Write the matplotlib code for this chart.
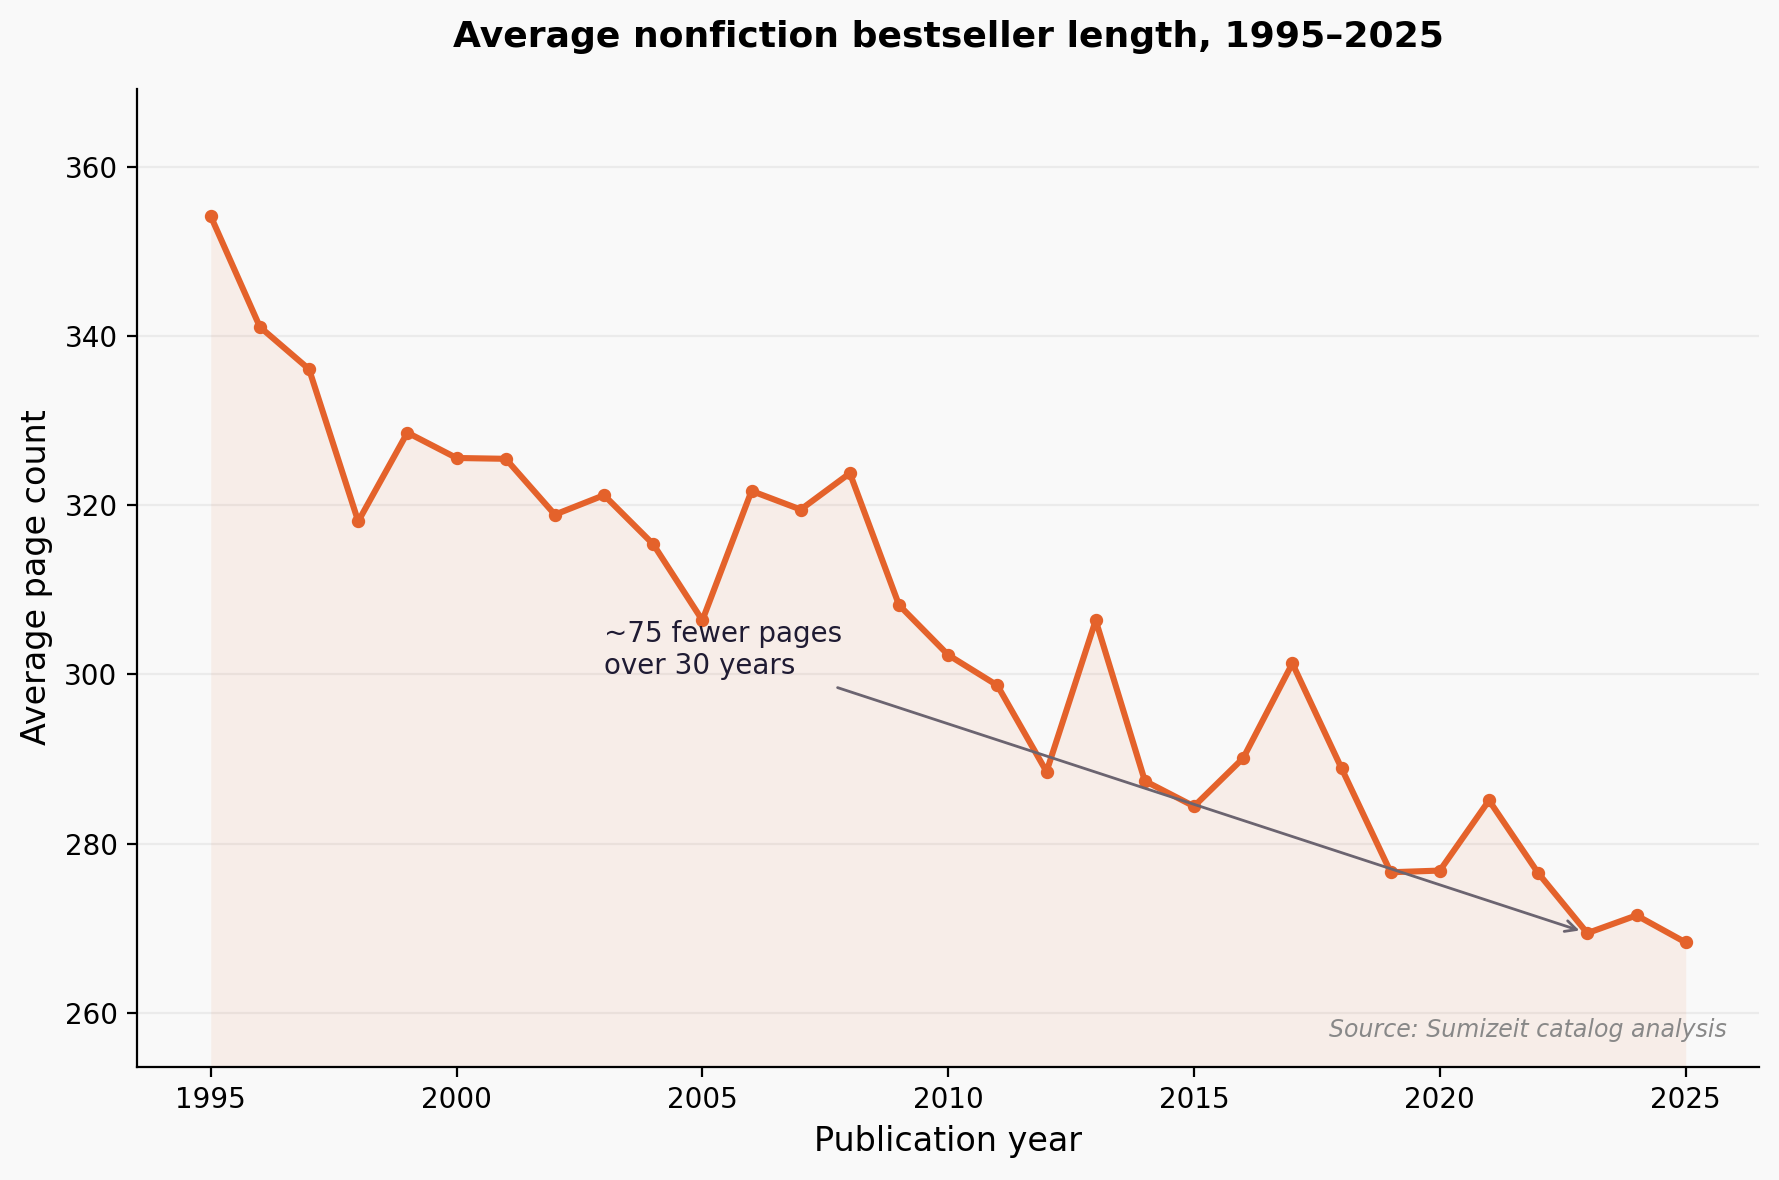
import numpy as np
import matplotlib
matplotlib.use('Agg')
import matplotlib.pyplot as plt

# Dati
years = list(range(1995, 2026))
pages = [354.2, 341.1, 336.1, 318.1, 328.6, 325.6, 325.5, 318.9, 321.2, 315.4,
         306.4, 321.7, 319.5, 323.8, 308.2, 302.3, 298.7, 288.5, 306.4, 287.4,
         284.4, 290.1, 301.3, 288.9, 276.6, 276.8, 285.1, 276.5, 269.4, 271.5,
         268.3]

line_color = '#E4622B'
bg = '#F9F9F9'

fig = plt.figure(figsize=(8.895, 5.9), dpi=200, facecolor=bg)
ax = fig.add_axes([0.077, 0.096, 0.912, 0.829])
ax.set_facecolor(bg)

ymin = min(pages) - 14.7
ymax = max(pages) + 15.1
ax.fill_between(years, pages, ymin, color=line_color, alpha=0.08, linewidth=0)
ax.plot(years, pages, color=line_color, linewidth=2.2, marker='o', markersize=3.8)

ax.set_ylim(ymin, ymax)
ax.set_xlim(1993.5, 2026.5)
ax.set_xticks([1995, 2000, 2005, 2010, 2015, 2020, 2025])
ax.set_yticks([260, 280, 300, 320, 340, 360])
ax.grid(axis='y', color='#ebebeb', linewidth=0.8)
ax.set_axisbelow(True)
for s in ['top', 'right']:
    ax.spines[s].set_visible(False)
ax.tick_params(labelsize=10)

ax.set_xlabel('Publication year', fontsize=12)
ax.set_ylabel('Average page count', fontsize=12)
ax.set_title('Average nonfiction bestseller length, 1995\u20132025', fontsize=13,
             fontweight='bold', pad=15)

ax.annotate('~75 fewer pages\nover 30 years', xy=(2023, 269.4), xytext=(2003, 299.3),
            fontsize=10, color='#1f1b33', ha='left', va='bottom',
            arrowprops=dict(arrowstyle='->', color='#6b6470', lw=1.0,
                            shrinkA=2, shrinkB=3))

ax.text(0.98, 0.025, 'Source: Sumizeit catalog analysis', transform=ax.transAxes,
        ha='right', va='bottom', fontsize=8.5, style='italic', color='#888888')

fig.savefig('out.png', dpi=200, facecolor=bg)
